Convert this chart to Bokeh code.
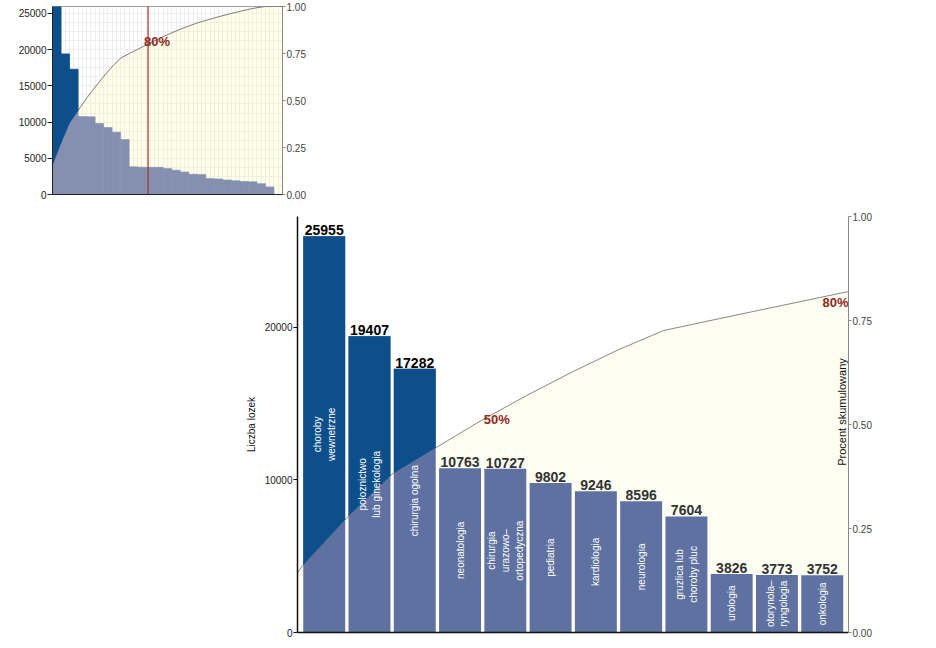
import numpy as np
from bokeh.plotting import figure
from bokeh.models import Range1d, LinearAxis, FixedTicker, Label, ColumnDataSource, Span, NumeralTickFormatter
from bokeh.embed import file_html
from bokeh.resources import INLINE
from bokeh.core.properties import value

# ---------------- data ----------------
main_labels = ["choroby\nwewnetrzne", "poloznictwo\nlub ginekologia", "chirurgia ogolna",
               "neonatologia", "chirurgia\nurazowo–\nortopedyczna", "pediatria", "kardiologia",
               "neurologia", "gruzlica lub\nchoroby pluc", "urologia", "otorynola–\nryngologia",
               "onkologia"]
beds = [25955, 19407, 17282, 10763, 10727, 9802, 9246, 8596, 7604, 3826, 3773, 3752,
        3750, 3600, 3350, 3100, 2800, 2750, 2200, 2150, 2000, 1900, 1800, 1750, 1500, 1050]
left_ticks_main = [0, 10000, 20000]
left_ticks_inset = [0, 5000, 10000, 15000, 20000, 25000]
pct_ticks = [0, 0.25, 0.5, 0.75, 1.0]
pareto_level = 0.8
pareto_text = "80%"
half_level = 0.5
half_text = "50%"
y_title_left = "Liczba lozek"
y_title_right = "Procent skumulowany"

FONT = "Liberation Sans"
DARK = "#0D4F8B"
SLATE_MAIN = "#5E71A0"
SLATE_INSET = "#858FAF"
RED = "#8E2A1E"

# ---------------- derived ----------------
vals = np.array(beds, dtype=float)
N = len(vals)
T = vals.sum()
cum = np.concatenate([[0.0], np.cumsum(vals)]) / T
line_x = np.concatenate([np.arange(-1, N, dtype=float), [N + 1.0]])
line_y = np.concatenate([cum, [cum[-1]]])


def line_at(x):
    return np.interp(x, line_x, line_y)


def upper_parts(centers, width, tops, ymax):
    xs, ys = [], []
    for c, top in zip(centers, tops):
        x0, x1 = c - width / 2, c + width / 2
        l0 = line_at(x0) * ymax
        l1 = line_at(x1) * ymax
        if min(l0, l1) >= top:
            continue
        px = [x0, x1, x1]
        py = [top, top, min(l1, top)]
        if (l0 - top) * (l1 - top) < 0:
            px.append(x0 + (top - l0) / (l1 - l0) * (x1 - x0))
            py.append(top)
        px.append(x0)
        py.append(min(l0, top))
        xs.append(px)
        ys.append(py)
    return xs, ys


def crossing(level):
    for k in range(1, len(line_y)):
        if line_y[k] >= level:
            a, b = line_y[k - 1], line_y[k]
            return line_x[k - 1] + (level - a) / (b - a) * (line_x[k] - line_x[k - 1])
    return line_x[-1]


def first_point_over(level):
    k = int(np.argmax(line_y >= level))
    return line_x[k], line_y[k]


def style_axis(ax, color, label_color, tick_out, standoff, size="10px"):
    ax.axis_line_color = color
    ax.major_tick_line_color = color
    ax.major_tick_out = tick_out
    ax.major_tick_in = 0
    ax.minor_tick_line_color = None
    ax.major_label_standoff = standoff
    ax.major_label_text_font = FONT
    ax.major_label_text_font_size = size
    ax.major_label_text_color = label_color


# ---------------- inset (full pareto) ----------------
ymax_inset = vals.max()
q = figure(width=320, height=208, x_range=Range1d(0, N + 1), y_range=Range1d(0, ymax_inset),
           output_backend="svg", toolbar_location=None,
           min_border_left=52, min_border_right=38, min_border_top=6, min_border_bottom=14)
q.extra_y_ranges = {"pct": Range1d(0, 1)}
q.outline_line_color = "#9a9a9a"
q.xgrid.ticker = FixedTicker(ticks=list(np.arange(0, N + 1.01, 0.5)))
q.ygrid.ticker = FixedTicker(ticks=list(np.arange(0, ymax_inset, left_ticks_inset[1] / 4)))
q.grid.grid_line_color = "#EEEEEE"
q.grid.grid_line_width = 1

q.varea(x=line_x, y1=np.zeros_like(line_y), y2=line_y, y_range_name="pct",
        fill_color="#FFFF70", fill_alpha=0.14)
q.line(line_x, line_y, y_range_name="pct", line_color="#444444", line_width=0.7)
inset_centers = np.arange(N) + 0.5
q.vbar(x=inset_centers, width=1.0, top=vals, bottom=0, fill_color=SLATE_INSET,
       line_color=SLATE_INSET, line_width=0.6)
ix, iy = upper_parts(inset_centers, 1.0, vals, ymax_inset)
q.patches(ix, iy, fill_color=DARK, line_color=DARK, line_width=0.6)

x80 = crossing(pareto_level)
q.add_layout(Span(location=x80, dimension="height", line_color="#A0302A", line_width=1.2))
q.add_layout(Label(x=x80, y=pareto_level, y_range_name="pct", text=pareto_text,
                   text_align="left", text_baseline="alphabetic", x_offset=-4, y_offset=3,
                   text_font=FONT, text_font_size="13px", text_font_style="bold",
                   text_color=RED))

q.xaxis.ticker = FixedTicker(ticks=[])
q.xaxis.major_label_text_font_size = "0px"
q.xaxis.axis_line_color = "#222222"
q.xaxis.major_tick_line_color = None
style_axis(q.yaxis[0], "#222222", "#222222", 5, 1)
q.yaxis[0].ticker = FixedTicker(ticks=left_ticks_inset)
rq = LinearAxis(y_range_name="pct", ticker=FixedTicker(ticks=pct_ticks),
                formatter=NumeralTickFormatter(format="0.00"))
style_axis(rq, "#888888", "#444444", 3, 1)
q.add_layout(rq, "right")

# ---------------- main (first bars up to 80%) ----------------
M = len(main_labels)
mvals = vals[:M]
ymax_main = vals.max() * 1.05
p = figure(width=900, height=432, x_range=Range1d(-0.09, M + 0.08), y_range=Range1d(0, ymax_main),
           output_backend="svg", toolbar_location=None,
           min_border_left=297, min_border_right=52, min_border_top=8, min_border_bottom=8)
p.extra_y_ranges = {"pct": Range1d(0, 1)}
p.outline_line_color = None
p.grid.visible = False

p.varea(x=line_x, y1=np.zeros_like(line_y), y2=line_y, y_range_name="pct",
        fill_color="#FDFDF2")
p.line(line_x, line_y, y_range_name="pct", line_color="#555555", line_width=0.7)

centers = np.arange(M) + 0.5
bw = 0.926
p.vbar(x=centers, width=bw, top=mvals, bottom=0, fill_color=SLATE_MAIN, line_color=None)
mx, my = upper_parts(centers, bw, mvals, ymax_main)
p.patches(mx, my, fill_color=DARK, line_color=None)

# labels inside bars
p.text(x=centers, y=mvals / 2, text=main_labels, angle=np.pi / 2,
       text_align="center", text_baseline="middle", text_color="white",
       text_font=value(FONT), text_font_size="10px", text_line_height=1.25)

# value labels above bars
above = mvals / ymax_main > line_at(centers)
lab_src = ColumnDataSource(dict(x=centers, y=mvals, t=[str(int(v)) for v in mvals],
                                c=["#000000" if a else "#333333" for a in above]))
p.text(x="x", y="y", text="t", source=lab_src, text_color="c",
       text_align="center", text_baseline="bottom", y_offset=-1,
       text_font=value(FONT), text_font_size="14px", text_font_style="bold")

hx, hy = first_point_over(half_level)
p.add_layout(Label(x=hx, y=hy, y_range_name="pct", text=half_text, text_align="left",
                   text_baseline="alphabetic", x_offset=1, text_font=FONT,
                   text_font_size="13px", text_font_style="bold", text_color=RED))
p.add_layout(Label(x=p.x_range.end, y=pareto_level, y_range_name="pct", text=pareto_text,
                   text_align="right", text_baseline="alphabetic", y_offset=-3,
                   text_font=FONT, text_font_size="13px", text_font_style="bold",
                   text_color=RED))
p.add_layout(Label(x=p.x_range.end, y=0.53, y_range_name="pct", text=y_title_right,
                   angle=np.pi / 2, text_align="center", text_baseline="bottom",
                   x_offset=-1, text_font=FONT, text_font_size="11px", text_color="#111111"))

p.xaxis.ticker = FixedTicker(ticks=[])
p.xaxis.major_label_text_font_size = "0px"
p.xaxis.axis_line_color = "#111111"
p.xaxis.axis_line_width = 1.5
p.xaxis.major_tick_line_color = None
ly = p.yaxis[0]
style_axis(ly, "#111111", "#222222", 4, 1)
ly.axis_line_width = 1.5
ly.ticker = FixedTicker(ticks=left_ticks_main)
ly.axis_label = y_title_left
ly.axis_label_text_font = FONT
ly.axis_label_text_font_size = "10px"
ly.axis_label_text_font_style = "normal"
ly.axis_label_text_color = "#111111"
ly.axis_label_standoff = 5
ry = LinearAxis(y_range_name="pct", ticker=FixedTicker(ticks=pct_ticks),
                formatter=NumeralTickFormatter(format="0.00"))
style_axis(ry, "#888888", "#444444", 3, 1)
p.add_layout(ry, "right")

open("out.html", "w").write(file_html([q, p], INLINE))
